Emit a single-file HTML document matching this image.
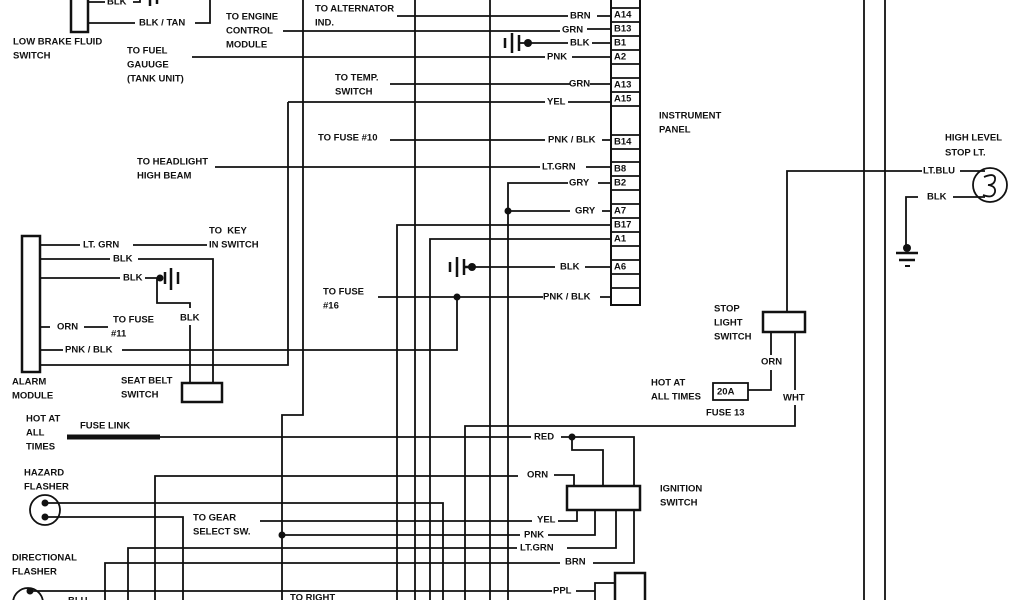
<!DOCTYPE html>
<html><head><meta charset="utf-8"><style>
html,body{margin:0;padding:0;background:#fff;}
svg{display:block;}
text{font-family:"Liberation Sans",Arial,sans-serif;font-weight:bold;font-size:9.5px;fill:#111;dominant-baseline:central;}
</style></head><body>
<svg width="1024" height="600" viewBox="0 0 1024 600" xmlns="http://www.w3.org/2000/svg">
<g stroke="#111" stroke-width="1.8" fill="none">
<!-- instrument panel connector -->
<rect x="611" y="-2" width="29" height="307" stroke-width="2"/>
<path d="M611 8H640M611 22H640M611 36H640M611 50H640M611 64H640M611 78H640M611 92H640M611 106H640M611 135H640M611 149H640M611 162H640M611 176H640M611 190H640M611 204H640M611 218H640M611 232H640M611 246H640M611 260H640M611 274H640M611 288H640"/>
<!-- low brake fluid -->
<rect x="71" y="-4" width="17" height="36" stroke-width="2.5"/>
<path d="M88 2H105M88 23H135M195 23H210V0M133 2H140V-2"/>
<path d="M150 -2V6M157 -2V4" stroke-width="2.5"/>
<!-- wires to panel -->
<path d="M397 16H568M597 16H611"/>
<path d="M283 31H560M587 29H611"/>
<path d="M528 43H568M592 43H611"/>
<path d="M192 57H545M572 57H611"/>
<path d="M390 84H570M590 84H611"/>
<path d="M288 102H545M568 102H611"/>
<path d="M390 140H545M602 140H611"/>
<path d="M215 167H540M586 167H611"/>
<path d="M508 600V183H568M598 183H611"/>
<path d="M508 211H570M602 211H611"/>
<path d="M397 600V225H611"/>
<path d="M430 600V239H611"/>
<path d="M472 267H555M585 267H611"/>
<path d="M378 297H543M600 297H611"/>
<!-- long verticals -->
<path d="M303 0V415H282V600"/>
<path d="M415 0V600M490 0V600"/>
<path d="M288 102V365H40"/>
<path d="M457 297V350H122"/>
<!-- alarm module -->
<rect x="22" y="236" width="18" height="136" stroke-width="2.5"/>
<path d="M40 245H80M133 245H207"/>
<path d="M40 259H110M138 259H213V383"/>
<path d="M40 278H120M145 278H157V303H190V308M190 325V383"/>
<path d="M40 327H50M84 327H108M40 350H63"/>
<rect x="182" y="383" width="40" height="19" stroke-width="2.5"/>
<!-- fuse link / RED -->
<path d="M67 437H160" stroke-width="5"/>
<path d="M160 437H531M561 437H634V486M572 437V450H603V486"/>
<!-- ignition -->
<rect x="567" y="486" width="73" height="24" stroke-width="2.5"/>
<path d="M155 600V476H518M554 475H574V486"/>
<path d="M45 503H443V600M45 517H183V600"/>
<path d="M260 521H532M558 521H577V510"/>
<path d="M282 535H520M548 535H595V510"/>
<path d="M128 600V548H517M567 548H616V510"/>
<path d="M105 600V563H560M593 563H634V510"/>
<path d="M465 600V426H795V405M795 390V332"/>
<path d="M30 591H552M576 591H595"/>
<rect x="595" y="583" width="20" height="20"/>
<rect x="615" y="573" width="30" height="40" stroke-width="2.5"/>
<circle cx="45" cy="510" r="15"/>
<circle cx="28" cy="603" r="15"/>
<!-- right side -->
<path d="M864 0V600M885 0V600"/>
<path d="M787 312V171H922M960 171H985"/>
<path d="M953 197H985M906 245V197H918"/>
<circle cx="990" cy="185" r="17"/>
<path d="M984 177Q996 172 995 180Q994 185 988 185Q996 186 995 192Q993 199 983 195"/>
<rect x="763" y="312" width="42" height="20" stroke-width="2.5"/>
<path d="M771 332V355M771 370V390H748"/>
<rect x="713" y="383" width="35" height="17"/>
<path d="M896 253H918M899 260H915" stroke-width="2.5"/>
<path d="M905 266H910" stroke-width="2"/>
<!-- ground symbols -->
<path d="M505 38V48M512 33V53M519 35V51" stroke-width="2.5"/>
<path d="M519 43H528"/>
<path d="M450 262V272M457 257V277M464 259V275M464 267H472" stroke-width="2.5"/>
<path d="M165 272V284M171 268V290M178 272V284" stroke-width="2.5"/>
</g>
<g fill="#111">
<circle cx="528" cy="43" r="4"/><circle cx="472" cy="267" r="4"/>
<circle cx="160" cy="278" r="3.5"/>
<circle cx="508" cy="211" r="3.5"/><circle cx="457" cy="297" r="3.5"/>
<circle cx="572" cy="437" r="3.5"/><circle cx="282" cy="535" r="3.5"/>
<circle cx="45" cy="503" r="3.5"/><circle cx="45" cy="517" r="3.5"/>
<circle cx="30" cy="591" r="3.5"/><circle cx="907" cy="248" r="4"/>
</g>
<!-- texts -->
<text x="107" y="2">BLK</text>
<text x="139" y="23">BLK / TAN</text>
<text x="13" y="42">LOW BRAKE FLUID</text><text x="13" y="56">SWITCH</text>
<text x="127" y="51">TO FUEL</text><text x="127" y="65">GAUUGE</text><text x="127" y="79">(TANK UNIT)</text>
<text x="226" y="17">TO ENGINE</text><text x="226" y="31">CONTROL</text><text x="226" y="45">MODULE</text>
<text x="315" y="9">TO ALTERNATOR</text><text x="315" y="23">IND.</text>
<text x="335" y="78">TO TEMP.</text><text x="335" y="92">SWITCH</text>
<text x="318" y="138">TO FUSE #10</text>
<text x="137" y="162">TO HEADLIGHT</text><text x="137" y="176">HIGH BEAM</text>
<text x="570" y="16">BRN</text><text x="562" y="30">GRN</text><text x="570" y="43">BLK</text>
<text x="547" y="57">PNK</text><text x="569" y="84">GRN</text><text x="547" y="102">YEL</text>
<text x="548" y="140">PNK / BLK</text><text x="542" y="167">LT.GRN</text>
<text x="569" y="183">GRY</text><text x="575" y="211">GRY</text>
<text x="560" y="267">BLK</text><text x="543" y="297">PNK / BLK</text>
<text x="323" y="292">TO FUSE</text><text x="323" y="306">#16</text>
<g style="font-size:8.5px">
<text x="614" y="15">A14</text><text x="614" y="29">B13</text><text x="614" y="43">B1</text>
<text x="614" y="57">A2</text><text x="614" y="85">A13</text><text x="614" y="99">A15</text>
<text x="614" y="142">B14</text><text x="614" y="169">B8</text><text x="614" y="183">B2</text>
<text x="614" y="211">A7</text><text x="614" y="225">B17</text><text x="614" y="239">A1</text>
<text x="614" y="267">A6</text>
</g>
<text x="659" y="116">INSTRUMENT</text><text x="659" y="130">PANEL</text>
<text x="83" y="245">LT. GRN</text>
<text x="209" y="231">TO &#160;KEY</text><text x="209" y="245">IN SWITCH</text>
<text x="113" y="259">BLK</text><text x="123" y="278">BLK</text>
<text x="180" y="318">BLK</text>
<text x="57" y="327">ORN</text>
<text x="113" y="320">TO FUSE</text><text x="111" y="334">#11</text>
<text x="65" y="350">PNK / BLK</text>
<text x="12" y="382">ALARM</text><text x="12" y="396">MODULE</text>
<text x="121" y="381">SEAT BELT</text><text x="121" y="395">SWITCH</text>
<text x="26" y="419">HOT AT</text><text x="26" y="433">ALL</text><text x="26" y="447">TIMES</text>
<text x="80" y="426">FUSE LINK</text>
<text x="534" y="437">RED</text><text x="527" y="475">ORN</text>
<text x="660" y="489">IGNITION</text><text x="660" y="503">SWITCH</text>
<text x="24" y="473">HAZARD</text><text x="24" y="487">FLASHER</text>
<text x="193" y="518">TO GEAR</text><text x="193" y="532">SELECT SW.</text>
<text x="537" y="520">YEL</text><text x="524" y="535">PNK</text>
<text x="520" y="548">LT.GRN</text><text x="565" y="562">BRN</text>
<text x="12" y="558">DIRECTIONAL</text><text x="12" y="572">FLASHER</text>
<text x="553" y="591">PPL</text>
<text x="290" y="598">TO RIGHT</text><text x="68" y="601">BLU</text>
<text x="945" y="138">HIGH LEVEL</text><text x="945" y="153">STOP LT.</text>
<text x="923" y="171">LT.BLU</text><text x="927" y="197">BLK</text>
<text x="714" y="309">STOP</text><text x="714" y="323">LIGHT</text><text x="714" y="337">SWITCH</text>
<text x="761" y="362">ORN</text>
<text x="651" y="383">HOT AT</text><text x="651" y="397">ALL TIMES</text>
<text x="717" y="392">20A</text>
<text x="706" y="413">FUSE 13</text>
<text x="783" y="398">WHT</text>
</svg>
</body></html>
